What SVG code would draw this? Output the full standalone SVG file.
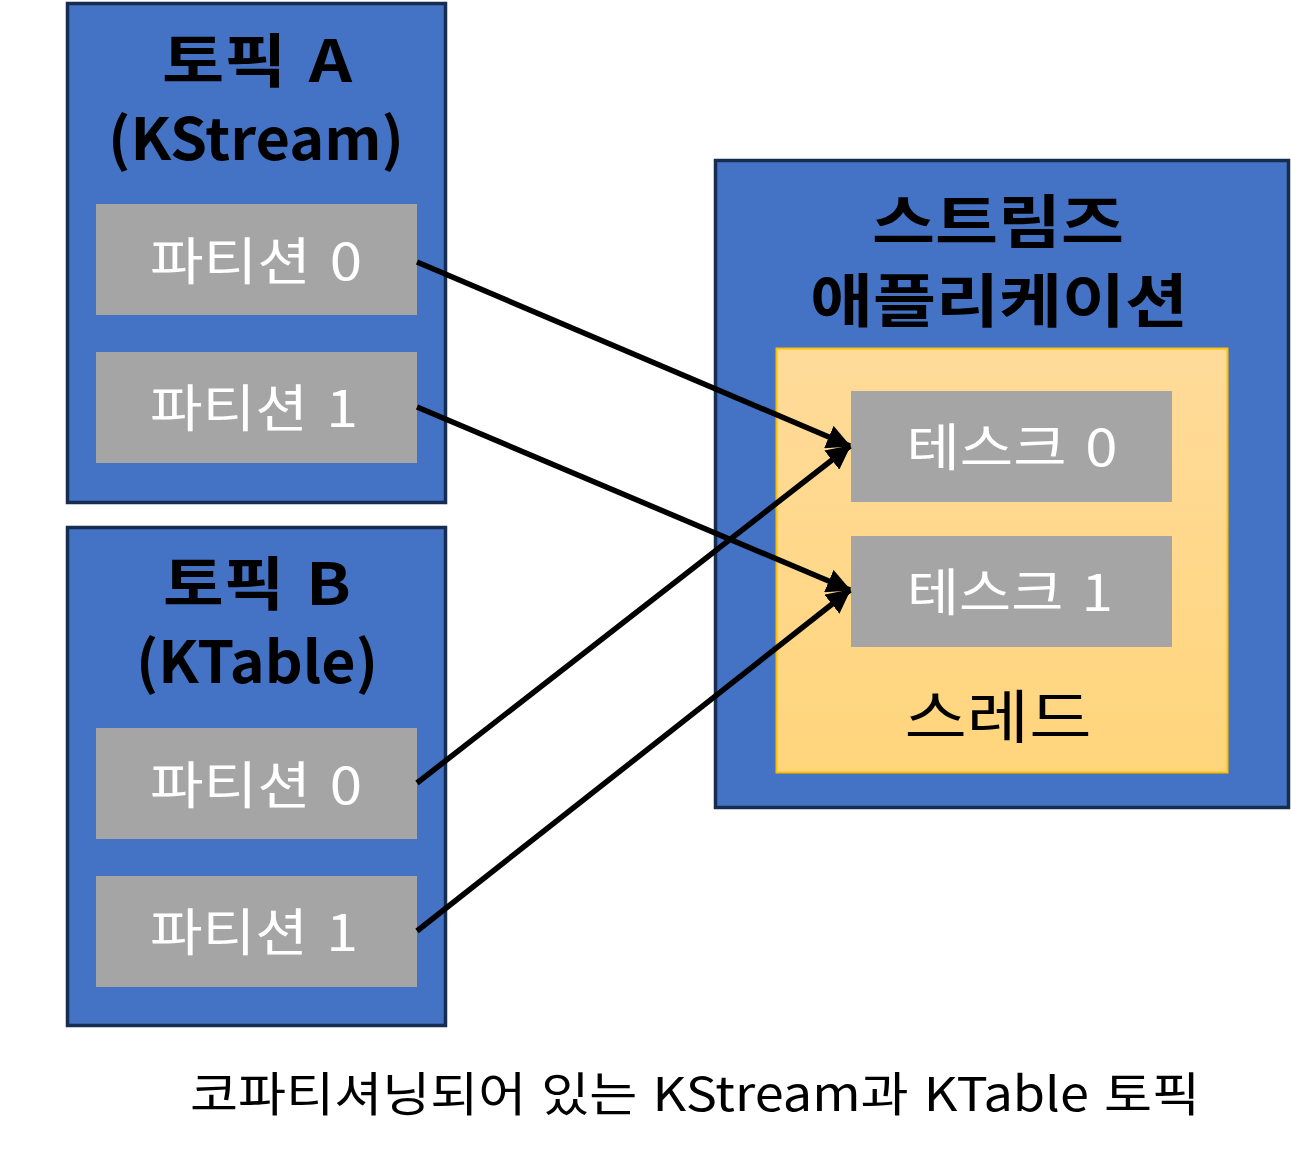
<svg xmlns="http://www.w3.org/2000/svg" width="1291" height="1154" viewBox="0 0 1291 1154">
<style>
.box{fill:#4472C4;stroke:#172C51;stroke-width:3.5}
.part{fill:#A5A5A5}
.title{font-family:"Noto Sans CJK KR","Noto Sans",sans-serif;font-weight:bold;font-size:58px;fill:#000;text-anchor:middle;word-spacing:6px}
.ptxt{font-family:"Noto Sans CJK KR","Noto Sans",sans-serif;font-size:51px;fill:#fff;text-anchor:middle;word-spacing:5px}
.conn{stroke:#000;stroke-width:5.5;fill:none}
</style>
<defs>
<linearGradient id="thr" x1="0" y1="0" x2="0" y2="1">
<stop offset="0" stop-color="#FFDB9A"/>
<stop offset="1" stop-color="#FFD57C"/>
</linearGradient>
<marker id="ah" viewBox="0 0 10 10" refX="9.5" refY="5" markerWidth="4.4" markerHeight="4.4" orient="auto" markerUnits="strokeWidth">
<path d="M0,0 L10,5 L0,10 z" fill="#000"/>
</marker>
</defs>
<g id="topicA">
<rect class="box" x="67.5" y="3.5" width="378" height="499"/>
<text class="title" x="257" y="82" textLength="190" lengthAdjust="spacingAndGlyphs">토픽 A</text>
<text class="title" x="256" y="160" textLength="296" lengthAdjust="spacingAndGlyphs">(KStream)</text>
</g>
<g id="topicA-p0">
<rect class="part" x="96" y="204" width="321" height="111"/>
<text class="ptxt" x="256" y="280" textLength="212" lengthAdjust="spacingAndGlyphs">파티션 0</text>
</g>
<g id="topicA-p1">
<rect class="part" x="96" y="352" width="321" height="111"/>
<text class="ptxt" x="254" y="427" textLength="208" lengthAdjust="spacingAndGlyphs">파티션 1</text>
</g>
<g id="topicB">
<rect class="box" x="67.5" y="527.5" width="378" height="498"/>
<text class="title" x="257" y="605" textLength="188" lengthAdjust="spacingAndGlyphs">토픽 B</text>
<text class="title" x="257" y="683" textLength="242" lengthAdjust="spacingAndGlyphs">(KTable)</text>
</g>
<g id="topicB-p0">
<rect class="part" x="96" y="728" width="321" height="111"/>
<text class="ptxt" x="256" y="804" textLength="212" lengthAdjust="spacingAndGlyphs">파티션 0</text>
</g>
<g id="topicB-p1">
<rect class="part" x="96" y="876" width="321" height="111"/>
<text class="ptxt" x="254" y="951" textLength="208" lengthAdjust="spacingAndGlyphs">파티션 1</text>
</g>
<g id="streamsApp">
<rect class="box" x="715.5" y="160.5" width="573" height="647"/>
<text class="title" x="998" y="243" textLength="252" lengthAdjust="spacingAndGlyphs">스트림즈</text>
<text class="title" x="999" y="322" textLength="378" lengthAdjust="spacingAndGlyphs">애플리케이션</text>
</g>
<g id="thread">
<rect x="776.5" y="348.5" width="451" height="424" fill="url(#thr)" stroke="#FFC000" stroke-width="2"/>
<text x="998" y="738" font-family="Noto Sans CJK KR, Noto Sans, sans-serif" font-size="58" fill="#000" text-anchor="middle" textLength="187" lengthAdjust="spacingAndGlyphs">스레드</text>
</g>
<g id="task0">
<rect class="part" x="851" y="391" width="321" height="111"/>
<text class="ptxt" x="1012" y="466" textLength="211" lengthAdjust="spacingAndGlyphs">테스크 0</text>
</g>
<g id="task1">
<rect class="part" x="851" y="536" width="321" height="111"/>
<text class="ptxt" x="1010" y="611" textLength="206" lengthAdjust="spacingAndGlyphs">테스크 1</text>
</g>
<g id="connectors">
<line class="conn" x1="417" y1="262" x2="850" y2="446" marker-end="url(#ah)"/>
<line class="conn" x1="417" y1="407" x2="850" y2="590" marker-end="url(#ah)"/>
<line class="conn" x1="417" y1="783" x2="850" y2="446" marker-end="url(#ah)"/>
<line class="conn" x1="417" y1="931" x2="850" y2="590" marker-end="url(#ah)"/>
</g>
<text x="695" y="1111" font-family="Noto Sans CJK KR, Noto Sans, sans-serif" font-size="47" fill="#000" text-anchor="middle" word-spacing="3" textLength="1010" lengthAdjust="spacingAndGlyphs">코파티셔닝되어 있는 KStream과 KTable 토픽</text>
</svg>
